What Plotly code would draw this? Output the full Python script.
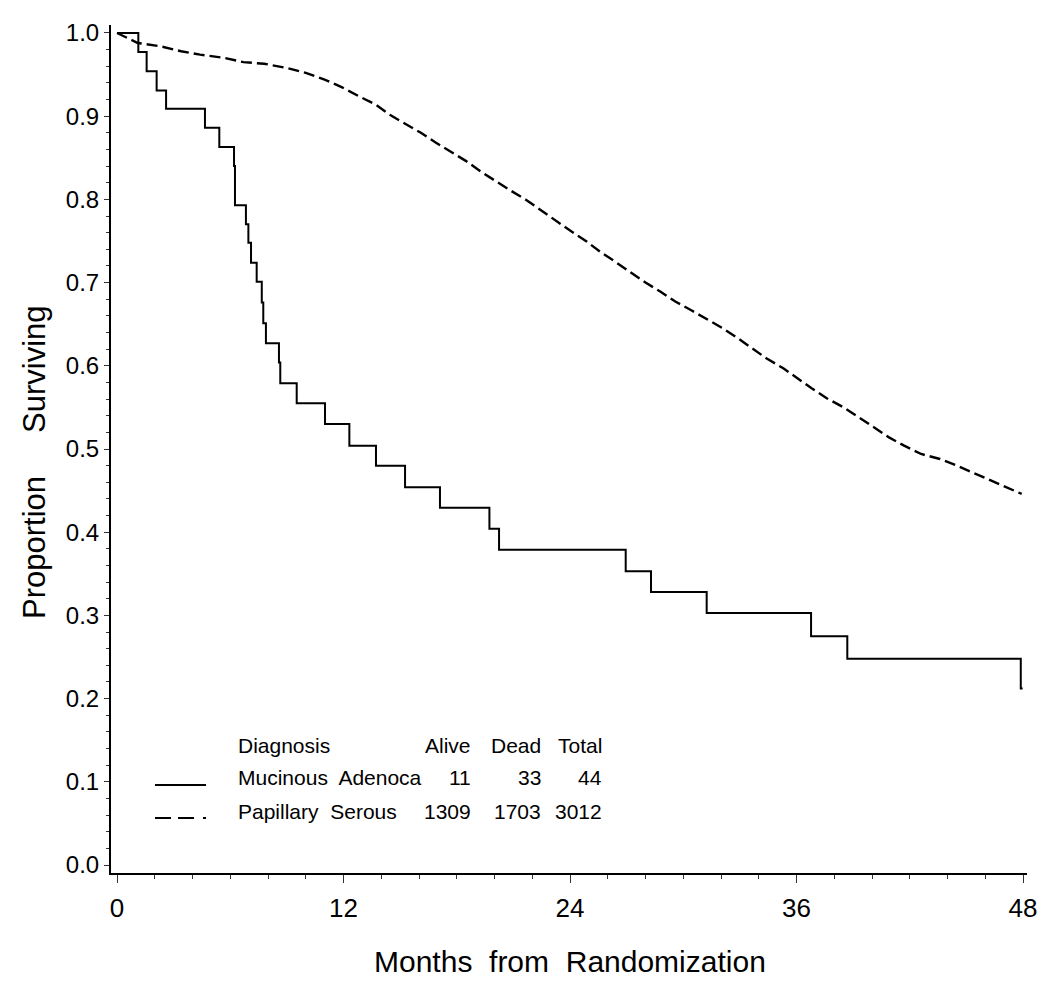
import plotly.graph_objects as go

# ---- data ----
muc_months = [0, 1.13, 1.57, 2.10, 2.60, 4.66, 5.42, 6.20, 6.25, 6.83, 6.96, 7.10, 7.40,
              7.67, 7.75, 7.89, 8.58, 8.65, 9.52, 11.02, 12.31, 13.72, 15.26, 17.11,
              19.73, 20.24, 26.95, 28.29, 31.24, 36.77, 38.69, 47.88, 47.98]
muc_surv = [1.0, 0.977, 0.954, 0.931, 0.909, 0.886, 0.863, 0.840, 0.793, 0.770, 0.748, 0.724, 0.701,
            0.676, 0.651, 0.627, 0.604, 0.579, 0.555, 0.530, 0.504, 0.480, 0.454, 0.4295,
            0.404, 0.379, 0.353, 0.328, 0.303, 0.275, 0.248, 0.212, 0.212]

pap_months = [0, 1.1, 2.3, 3.4, 4.4, 5.7, 6.7, 7.8, 9.0, 10.0, 11.0, 11.9, 12.9, 13.7, 14.5,
              15.3, 16.1, 16.9, 17.6, 18.5, 19.3, 20.1, 20.9, 21.7, 22.5, 23.3, 24.1, 24.9,
              25.6, 26.4, 27.2, 28.0, 28.8, 29.6, 30.4, 31.2, 32.1, 32.9, 33.7, 34.4, 35.3,
              36.1, 36.8, 37.6, 38.5, 39.3, 40.1, 40.9, 41.7, 42.6, 43.6, 44.5, 45.4, 46.3,
              47.3, 47.93]
pap_surv = [1.0, 0.988, 0.984, 0.978, 0.974, 0.970, 0.965, 0.963, 0.958, 0.952, 0.944, 0.935,
            0.923, 0.914, 0.901, 0.891, 0.880, 0.868, 0.858, 0.846, 0.833, 0.821, 0.810, 0.799,
            0.786, 0.773, 0.761, 0.749, 0.737, 0.725, 0.712, 0.700, 0.689, 0.677, 0.667, 0.657,
            0.645, 0.633, 0.620, 0.609, 0.597, 0.584, 0.573, 0.561, 0.550, 0.538, 0.526, 0.514,
            0.504, 0.494, 0.488, 0.480, 0.471, 0.462, 0.452, 0.446]

diagnoses = ["Mucinous\u00a0 Adenoca", "Papillary\u00a0 Serous"]
alive = [11, 1309]
dead = [33, 1703]
total = [44, 3012]
x_ticks = [0, 12, 24, 36, 48]
y_ticks = [0.0, 0.1, 0.2, 0.3, 0.4, 0.5, 0.6, 0.7, 0.8, 0.9, 1.0]

FONT = "Liberation Sans, Arial, Helvetica, sans-serif"

fig = go.Figure()
fig.add_trace(go.Scatter(x=muc_months, y=muc_surv, mode="lines", line_shape="hv",
                         line=dict(color="black", width=2), name=diagnoses[0], showlegend=False))
fig.add_trace(go.Scatter(x=pap_months, y=pap_surv, mode="lines",
                         line=dict(color="black", width=2.4, dash="11px,5px"),
                         name=diagnoses[1], showlegend=False))

# the page body adds an 8px offset; screen coords = figure coords + 8
OFF = 8
W, H = 1050, 990
L, R, T, B = 111 - OFF, 1027 - OFF, 25 - OFF, 873 - OFF


def px(xs):
    return (xs - OFF - L) / (R - L)


def py(ys):
    return (B - (ys - OFF)) / (B - T)


tick_common = dict(ticks="outside", tickcolor="#333", tickwidth=1, showline=True,
                   linecolor="black", linewidth=2, showgrid=False, zeroline=False,
                   mirror=False, automargin=False)

fig.update_xaxes(range=[-0.318, 48.21], tickvals=x_ticks, ticklen=8, ticklabelstandoff=3,
                 tickfont=dict(family=FONT, size=26, color="black"),
                 minor=dict(dtick=2, tick0=0, ticks="outside", ticklen=4, tickcolor="#333",
                            tickwidth=1, showgrid=False),
                 **tick_common)
fig.update_yaxes(range=[-0.0096, 1.0096], tickvals=y_ticks, tickformat=".1f", ticklen=5,
                 tickfont=dict(family=FONT, size=24, color="black"),
                 minor=dict(dtick=0.02, tick0=0, ticks="outside", ticklen=3, tickcolor="#333",
                            tickwidth=1, showgrid=False),
                 **tick_common)

annotations = []
# axis titles
annotations.append(dict(text="Months\u00a0 from\u00a0 Randomization", xref="paper", yref="paper",
                        x=px(570), y=py(961), xanchor="center", yanchor="middle",
                        showarrow=False, font=dict(family=FONT, size=30, color="black")))
annotations.append(dict(text="Proportion\u00a0\u00a0\u00a0\u00a0 Surviving", xref="paper", yref="paper",
                        x=px(34), y=py(462), xanchor="center", yanchor="middle", textangle=-90,
                        showarrow=False, font=dict(family=FONT, size=31, color="black")))

# legend table
lf = dict(family=FONT, size=21, color="black")
row_y = [745, 777, 811]
annotations.append(dict(text="Diagnosis", xref="paper", yref="paper", x=px(236), y=py(row_y[0]),
                        xanchor="left", yanchor="middle", showarrow=False, font=lf))
col_right = [473, 543, 604]
for label, xr in zip(["Alive", "Dead", "Total"], col_right):
    annotations.append(dict(text=label, xref="paper", yref="paper", x=px(xr), y=py(row_y[0]),
                            xanchor="right", yanchor="middle", showarrow=False, font=lf))
for i, name in enumerate(diagnoses):
    yy = py(row_y[i + 1])
    annotations.append(dict(text=name, xref="paper", yref="paper", x=px(236), y=yy,
                            xanchor="left", yanchor="middle", showarrow=False, font=lf))
    for val, xr in zip([alive[i], dead[i], total[i]], col_right):
        annotations.append(dict(text=str(val), xref="paper", yref="paper", x=px(xr), y=yy,
                                xanchor="right", yanchor="middle", showarrow=False, font=lf))

shapes = [
    dict(type="line", xref="paper", yref="paper", x0=px(155), x1=px(206), y0=py(785), y1=py(785),
         line=dict(color="black", width=2)),
    dict(type="line", xref="paper", yref="paper", x0=px(155), x1=px(206), y0=py(818), y1=py(818),
         line=dict(color="black", width=2, dash="16px,7px,16px,9px,3px")),
]

fig.update_layout(width=W, height=H, margin=dict(l=L, r=W - R, t=T, b=H - B, pad=0),
                  plot_bgcolor="white", paper_bgcolor="white", showlegend=False,
                  annotations=annotations, shapes=shapes,
                  font=dict(family=FONT, color="black"))

fig.write_html("out.html")
